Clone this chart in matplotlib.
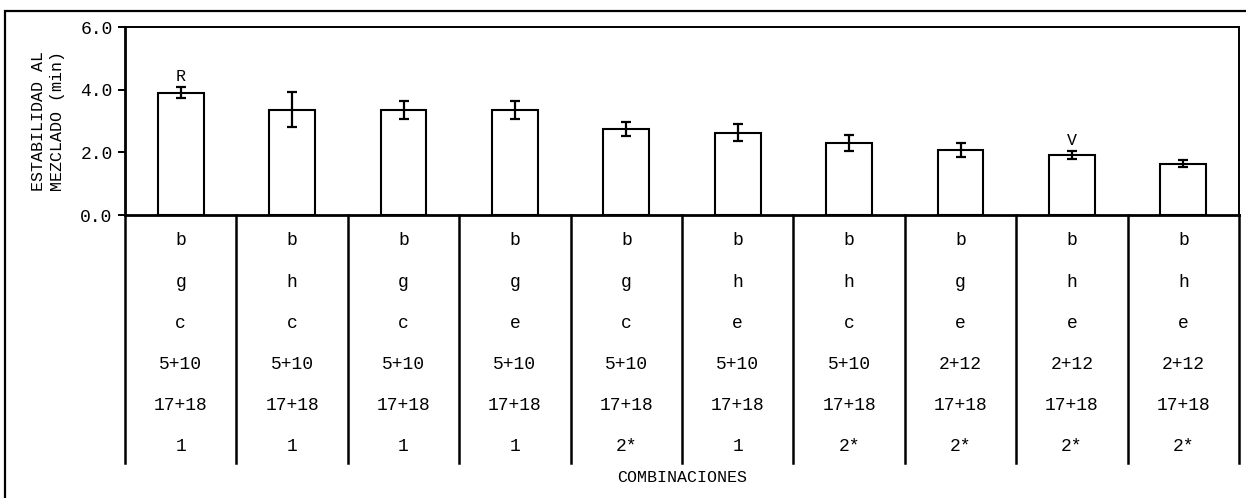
import matplotlib.pyplot as plt
import matplotlib.patches as patches

plt.rcParams['font.family'] = ['Liberation Mono', 'DejaVu Sans Mono']

# data
values = [3.90, 3.36, 3.35, 3.36, 2.74, 2.63, 2.30, 2.07, 1.91, 1.64]
errors = [0.18, 0.55, 0.28, 0.29, 0.23, 0.28, 0.25, 0.22, 0.12, 0.12]
marks = {0: 'R', 8: 'V'}

row1 = ['b', 'b', 'b', 'b', 'b', 'b', 'b', 'b', 'b', 'b']
row2 = ['g', 'h', 'g', 'g', 'g', 'h', 'h', 'g', 'h', 'h']
row3 = ['c', 'c', 'c', 'e', 'c', 'e', 'c', 'e', 'e', 'e']
row4 = ['5+10', '5+10', '5+10', '5+10', '5+10', '5+10', '5+10', '2+12', '2+12', '2+12']
row5 = ['17+18'] * 10
row6 = ['1', '1', '1', '1', '2*', '1', '2*', '2*', '2*', '2*']
rows = [row1, row2, row3, row4, row5, row6]

W, H = 1246, 498
fig = plt.figure(figsize=(W / 100, H / 100), dpi=100)

# outer frame (only left and top visible)
fig.patches.append(patches.Rectangle((5 / W, -0.2), 2, 1 - 11 / H + 0.2,
                                     transform=fig.transFigure, fill=False,
                                     edgecolor='black', linewidth=1.6))

ax_top, ax_bot = 27, 215
ax = fig.add_axes([125 / W, 1 - ax_bot / H, (1239 - 125) / W, (ax_bot - ax_top) / H])

x = list(range(len(values)))
ax.bar(x, values, width=0.41, color='white', edgecolor='black', linewidth=1.5)
ax.errorbar(x, values, yerr=errors, fmt='none', ecolor='black',
            elinewidth=1.6, capsize=3.5, capthick=1.6)

for i, m in marks.items():
    ax.text(i, values[i] + errors[i] + 0.1, m, ha='center', va='bottom', fontsize=12)

ax.set_xlim(-0.5, 9.5)
ax.set_ylim(0, 6)
ax.set_yticks([0, 2, 4, 6])
ax.set_yticklabels(['%.1f' % t for t in [0, 2, 4, 6]])
ax.set_xticks([])
ax.tick_params(axis='y', direction='out', length=5, width=1.4, labelsize=13, pad=4)
for s in ['left', 'bottom']:
    ax.spines[s].set_linewidth(2)
for s in ['top', 'right']:
    ax.spines[s].set_linewidth(1.4)

# table under the axis
span = ax_bot - ax_top
def yfrac(p):
    return (ax_bot - p) / span

trans = ax.get_xaxis_transform()
row_y = [240, 282, 323, 364, 405, 446]
for r, yy in zip(rows, row_y):
    for i, lab in enumerate(r):
        ax.text(i, yfrac(yy), lab, transform=trans, ha='center', va='center',
                fontsize=13, clip_on=False)

for b in range(len(values) + 1):
    ax.plot([b - 0.5, b - 0.5], [0, yfrac(463)], transform=trans, color='black',
            linewidth=1.8, clip_on=False)

ax.text(4.5, yfrac(477), 'COMBINACIONES', transform=trans, ha='center', va='center',
        fontsize=12, clip_on=False)

fig.text(48 / W, 1 - 121 / H, 'ESTABILIDAD AL\nMEZCLADO (min)', rotation=90,
         ha='center', va='center', fontsize=12, linespacing=1.3)

fig.savefig('out.png', dpi=100)
